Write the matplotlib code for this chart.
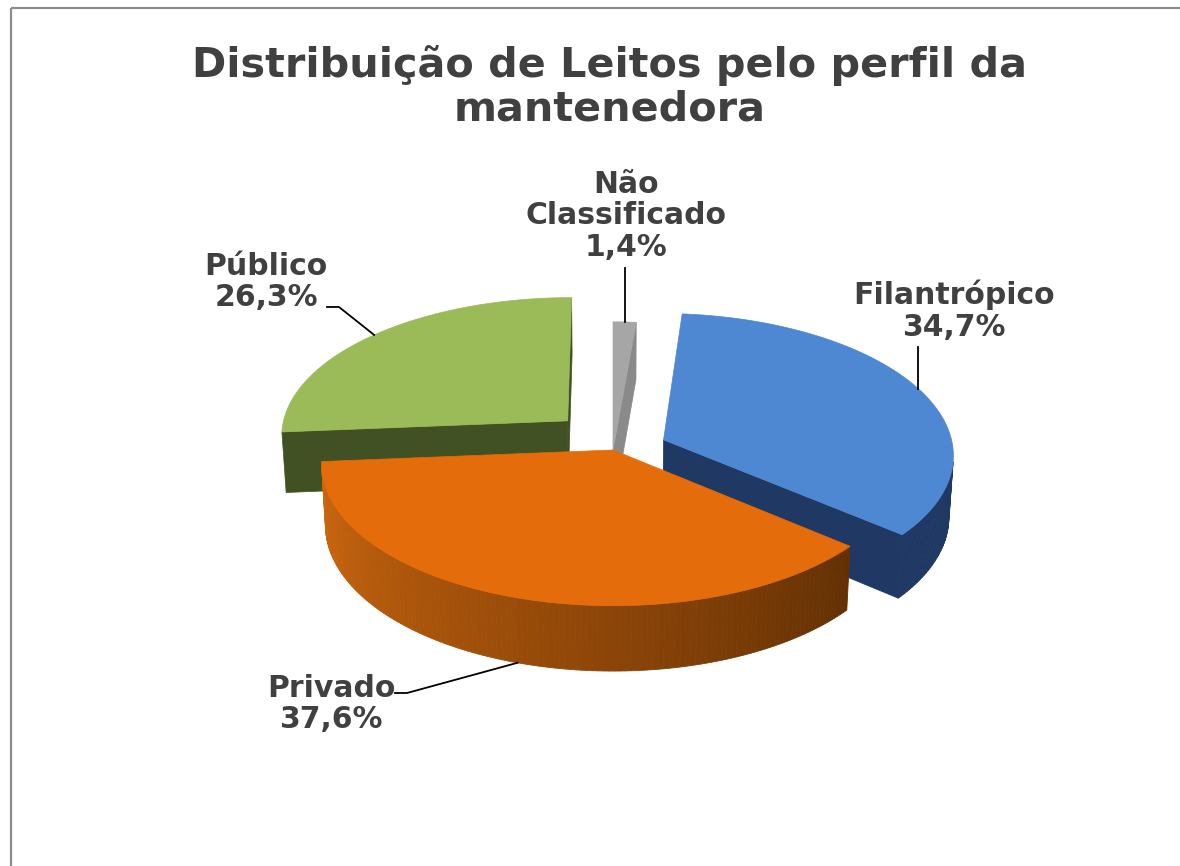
"""Exploded 3D pie: Distribuição de Leitos pelo perfil da mantenedora."""

import numpy as np
import matplotlib
matplotlib.use("Agg")
import matplotlib.pyplot as plt
from matplotlib.patches import Polygon
from matplotlib.colors import to_rgb

# ---------------------------------------------------------------------------
# Data
# ---------------------------------------------------------------------------
categories = ["Não\nClassificado", "Filantrópico", "Privado", "Público"]
shares = [1.4, 34.7, 37.6, 26.3]
pct_labels = ["1,4%", "34,7%", "37,6%", "26,3%"]

# ---------------------------------------------------------------------------
# Style / layout
# ---------------------------------------------------------------------------
top_colors = ["#A6A6A6", "#4F88D2", "#E46C0A", "#9BBB59"]
# (left colour, right colour) of the side walls
side_colors = [("#8A8A8A", "#8A8A8A"), ("#1F3864", "#1F3864"),
               ("#D0680F", "#633004"), ("#415124", "#415124")]
explode = [0.0, 0.19, 0.0, 0.265]
explode_dir = [None, None, None, 323.0]   # None = along the slice mid-angle

CX, CY = 613, 450          # pixel position of the pie centre
SCALE = 290                # pixels per unit radius
ELEV = np.radians(29)      # viewing elevation
DIST = 9.0                 # camera distance (perspective)
DEPTH = 0.244              # pie thickness

label_pos = [(626, 216), (954, 311), (331, 704), (266, 282)]
# where the leader leaves the label; None x = vertical leader
leader_start = [(None, 268), (None, 347), (395, 693), (327, 307)]
elbow = [0, 0, 12, 12]

TEXT = "#404040"

sinA, cosA = np.sin(ELEV), np.cos(ELEV)
camera = np.array([0.0, -DIST * cosA, DIST * sinA])


def project(X, Y, Z):
    u = Y * sinA + Z * cosA
    w = Y * cosA - Z * sinA
    s = DIST / (DIST + w)
    return CX + SCALE * X * s, CY - SCALE * u * s


def facing(normal, point):
    return np.dot(normal, camera - point) > 0


def quad(p0, p1, depth=DEPTH):
    """Vertical wall between two top points (x, y) in world coords."""
    pts = [(p0[0], p0[1], 0), (p1[0], p1[1], 0),
           (p1[0], p1[1], -depth), (p0[0], p0[1], -depth)]
    return [project(*p) for p in pts]


fig = plt.figure(figsize=(11.8, 8.66), dpi=100)
ax = fig.add_axes([0, 0, 1, 1])
ax.set_xlim(0, 1180); ax.set_ylim(866, 0); ax.axis("off")

total = float(sum(shares))
bounds = np.concatenate([[0], np.cumsum(shares)]) * 360.0 / total
mids = (bounds[:-1] + bounds[1:]) / 2

order = list(np.argsort(-np.cos(np.radians(mids))))  # back slices first
anchors = {}
for i in order:
    a1, a2, mid = bounds[i], bounds[i + 1], mids[i]
    m = np.radians(mid)
    d = np.radians(explode_dir[i]) if explode_dir[i] is not None else m
    ox, oy = explode[i] * np.sin(d), explode[i] * np.cos(d)
    n = max(3, int(a2 - a1) + 2)
    th = np.radians(np.linspace(a1, a2, n))
    rim = np.c_[ox + np.sin(th), oy + np.cos(th)]
    apex = (ox, oy)
    zorder = 2 + order.index(i) * 3

    # radial cut faces
    for ang, sgn in [(a1, -1), (a2, 1)]:
        r = np.radians(ang)
        nrm = np.array([np.sin(r + sgn * np.pi / 2), np.cos(r + sgn * np.pi / 2), 0])
        pt = np.array([ox + 0.5 * np.sin(r), oy + 0.5 * np.cos(r), -DEPTH / 2])
        if facing(nrm, pt):
            c = side_colors[i][1]
            edge = (ox + np.sin(r), oy + np.cos(r))
            ax.add_patch(Polygon(quad(apex, edge), closed=True, fc=c, ec=c,
                                 lw=0.5, zorder=zorder))

    # outer curved side, shaded light (left) -> dark (right)
    light = np.array(to_rgb(side_colors[i][0]))
    dark = np.array(to_rgb(side_colors[i][1]))
    for j in range(n - 1):
        tm = (th[j] + th[j + 1]) / 2
        nrm = np.array([np.sin(tm), np.cos(tm), 0])
        pt = np.array([ox + np.sin(tm), oy + np.cos(tm), -DEPTH / 2])
        if not facing(nrm, pt):
            continue
        f = (np.radians(a2) - tm) / (np.radians(a2) - np.radians(a1))
        c = tuple(light * (1 - f) + dark * f)
        ax.add_patch(Polygon(quad(rim[j], rim[j + 1]), closed=True, fc=c, ec=c,
                             lw=0.6, zorder=zorder + 1))

    # top surface
    top = [project(ox, oy, 0)] + [project(x, y, 0) for x, y in rim]
    ax.add_patch(Polygon(top, closed=True, fc=top_colors[i], ec=top_colors[i],
                         lw=0.5, zorder=zorder + 2))

    az = -DEPTH if np.cos(m) < 0 else 0.0
    anchors[i] = project(ox + np.sin(m), oy + np.cos(m), az)

# data labels with leader lines
for i, (cat, pct) in enumerate(zip(categories, pct_labels)):
    lx, ly = label_pos[i]
    ax.text(lx, ly, f"{cat}\n{pct}", ha="center", va="center", fontsize=21.5,
            fontweight="bold", color=TEXT, linespacing=1.12, zorder=30)
    axx, axy = anchors[i]
    sx, sy = leader_start[i]
    if sx is None:
        xs, ys = [axx, axx], [sy, axy]
    else:
        xs, ys = [sx, sx + elbow[i], axx], [sy, sy, axy]
    ax.plot(xs, ys, color="black", lw=1.3, zorder=29)

ax.text(610, 87, "Distribuição de Leitos pelo perfil da\nmantenedora",
        ha="center", va="center", fontsize=29.8, fontweight="bold",
        color=TEXT, linespacing=1.1)

# chart-area border (only top and left visible in the source crop)
ax.plot([11, 1180], [8, 8], color="#8C8C8C", lw=1.6, solid_capstyle="butt")
ax.plot([11, 11], [8, 866], color="#8C8C8C", lw=1.6, solid_capstyle="butt")

fig.savefig("out.png", dpi=100)
plt.close(fig)
